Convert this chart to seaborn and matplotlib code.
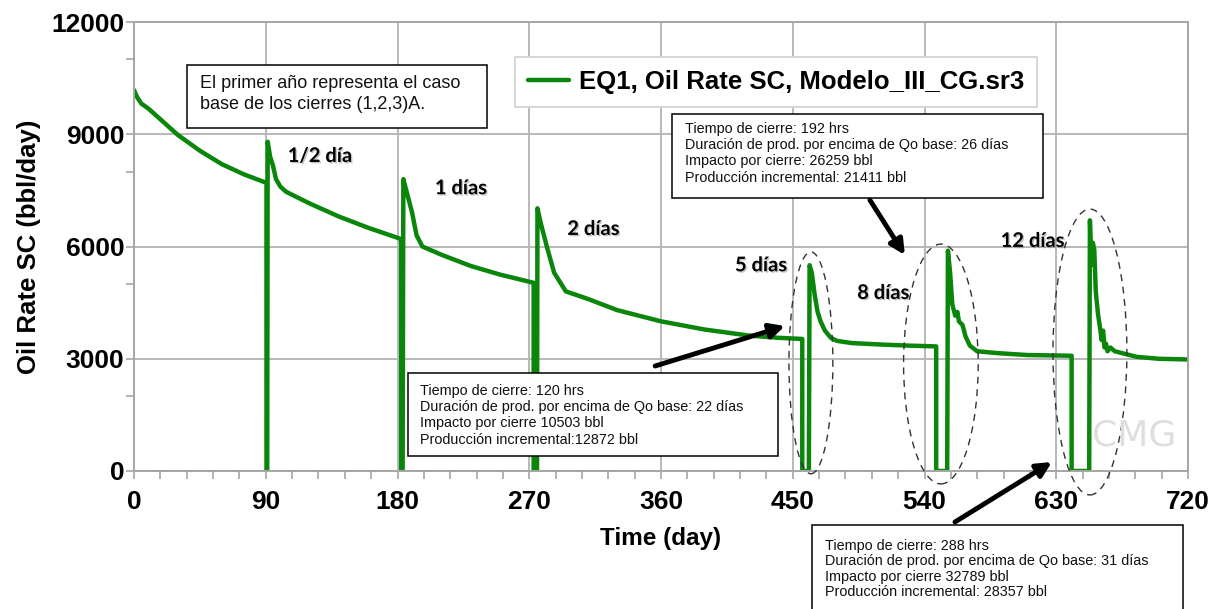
import pandas as pd
import matplotlib.pyplot as plt
import matplotlib.patheffects as pe
from matplotlib.patches import Rectangle, Ellipse
from matplotlib.ticker import MultipleLocator, FixedLocator
import seaborn as sns

# Oil rate (day, bbl/day)
time_day = [0, 2, 5, 10, 20, 30, 45, 60, 75, 90.5,
            90.5, 91.0, 91.3, 93, 95, 97, 100, 104, 120, 140, 160, 182.5,
            182.5, 183.5, 184, 186, 188, 190, 193, 197, 210, 230, 250, 273,
            273, 275.3, 275.6, 278, 282, 287, 295, 310, 330, 360, 390, 420, 440, 456.5,
            456.5, 461, 461.5, 463, 465, 467, 469, 472, 476, 480, 490, 510, 530, 548,
            548, 555.5, 556, 557.5, 559, 561, 562.5, 563.5, 566, 568, 571, 576, 590, 610, 640.5,
            640.5, 652.5, 653, 654, 655, 656, 657, 658.5, 660, 661, 662, 663, 664, 665, 667,
            670, 675, 685, 700, 720]
oil_rate = [10180, 10000, 9820, 9680, 9330, 8980, 8560, 8200, 7930, 7700,
            0, 0, 8800, 8400, 8150, 7800, 7600, 7460, 7150, 6800, 6500, 6200,
            0, 0, 7800, 7500, 7200, 6900, 6300, 6000, 5780, 5480, 5250, 5030,
            0, 0, 7020, 6600, 6000, 5300, 4800, 4600, 4300, 4000, 3780, 3620, 3560, 3530,
            0, 0, 5500, 5300, 4700, 4250, 4000, 3750, 3560, 3480, 3420, 3380, 3350, 3330,
            0, 0, 5890, 5300, 4450, 4150, 4250, 4000, 3900, 3600, 3350, 3200, 3150, 3100, 3080,
            0, 0, 6700, 5500, 6100, 5900, 4800, 4200, 3800, 3500, 3750, 3300, 3400, 3200, 3300,
            3200, 3150, 3050, 3000, 2980]

df = pd.DataFrame({"time": time_day, "rate": oil_rate})

x_ticks = [0, 90, 180, 270, 360, 450, 540, 630, 720]
y_ticks = [0, 3000, 6000, 9000, 12000]

shut_labels = ["1/2 día", "1 días", "2 días", "5 días", "8 días", "12 días"]
label_day = [105, 205.5, 296, 410.5, 494, 592]
label_rate = [8420, 7560, 6470, 5500, 4760, 6150]

box_120 = ["Tiempo de cierre: 120 hrs",
           "Duración de prod. por encima de Qo base: 22 días",
           "Impacto por cierre 10503 bbl",
           "Producción incremental:12872 bbl"]
box_192 = ["Tiempo de cierre: 192 hrs",
           "Duración de prod. por encima de Qo base: 26 días",
           "Impacto por cierre: 26259 bbl",
           "Producción incremental: 21411 bbl"]
box_288 = ["Tiempo de cierre: 288 hrs",
           "Duración de prod. por encima de Qo base: 31 días",
           "Impacto por cierre 32789 bbl",
           "Producción incremental: 28357 bbl"]

sns.set_theme(style="white")
plt.rcParams['font.family'] = ['Liberation Sans', 'DejaVu Sans']

W, H = 1217, 609
fig = plt.figure(figsize=(W / 100, H / 100), dpi=100)


def fx(px):
    return px / W


def fy(py):
    return 1 - py / H


ax = fig.add_axes([fx(134), fy(471), fx(1188) - fx(134), fy(22) - fy(471)])

sns.lineplot(data=df, x="time", y="rate", sort=False, estimator=None,
             color="#0a860a", lw=3.2, ax=ax, label="EQ1, Oil Rate SC, Modelo_III_CG.sr3")

ax.set_xlim(0, 720)
ax.set_ylim(0, 12000)
ax.xaxis.set_major_locator(FixedLocator(x_ticks))
ax.yaxis.set_major_locator(FixedLocator(y_ticks))
ax.xaxis.set_minor_locator(MultipleLocator(18))
ax.yaxis.set_minor_locator(FixedLocator([2000, 5000, 8000, 11000]))
ax.grid(True, which="major", color="#b8b8b8", lw=1.4)
ax.set_axisbelow(True)
for s in ax.spines.values():
    s.set_color("#a6a6a6")
    s.set_linewidth(1.4)
ax.tick_params(axis="both", which="both", bottom=True, left=True, direction="out",
               color="#a6a6a6", width=1.2, length=6, labelcolor="black")
ax.tick_params(axis="x", which="major", pad=8)
ax.tick_params(axis="y", which="major", pad=1)
for lab in ax.get_xticklabels() + ax.get_yticklabels():
    lab.set_fontsize(19)
    lab.set_fontweight("bold")
ax.set_xlabel("Time (day)", fontsize=17.5, fontweight="bold", labelpad=9, color="black")
ax.set_ylabel("Oil Rate SC (bbl/day)", fontsize=18.5, fontweight="bold", labelpad=7, color="black")

leg = ax.legend(loc="upper left", bbox_to_anchor=(fx(515), fy(57)), bbox_transform=fig.transFigure,
                frameon=True, fancybox=False, framealpha=1, edgecolor="#d0d0d0",
                prop=dict(weight="bold", size=18.5), handlelength=1.6, borderpad=0.5,
                borderaxespad=0, handletextpad=0.4)
leg.get_frame().set_linewidth(1.2)
leg.set_zorder(6)
for t in leg.get_texts():
    t.set_color("black")

# shut-in duration labels
shadow = [pe.SimplePatchShadow(offset=(1, -1), shadow_rgbFace="#888888", alpha=0.5), pe.Normal()]
for txt, d, r in zip(shut_labels, label_day, label_rate):
    ax.text(d, r, txt, fontsize=14.5, fontweight="bold", family=["Lato", "DejaVu Sans"],
            ha="left", va="center", color="black", path_effects=shadow, zorder=4)

# dashed ellipses around the later shut-ins
for cx, cy, w, h in [(462.4, 2890, 30, 5930), (551.2, 2860, 51, 6410), (653, 3180, 50.5, 7640)]:
    ax.add_patch(Ellipse((cx, cy), w, h, fill=False, ls=(0, (5, 4)), lw=1.0,
                         ec="#333333", clip_on=False, zorder=4))

# arrows
arrow = dict(arrowstyle="-|>", color="black", lw=3.5, mutation_scale=22, shrinkA=0, shrinkB=0)
for (x0, y0), (x1, y1) in [((356, 2806), (444.7, 3875)),
                           ((502.7, 7242), (526.6, 5772)),
                           ((560.8, -1363), (627, 240))]:
    ax.annotate("", xy=(x1, y1), xytext=(x0, y0), arrowprops=arrow,
                annotation_clip=False, zorder=7)

# CMG watermark
fig.text(fx(1134), fy(435), "CMG", fontsize=26, family="DejaVu Sans", color="#dedede",
         ha="center", va="center", zorder=1)


def note_box(x0, y0, x1, y1, lines, tx, ty, size, spacing):
    fig.patches.append(Rectangle((fx(x0), fy(y1)), fx(x1) - fx(x0), fy(y0) - fy(y1),
                                 transform=fig.transFigure, fc="white", ec="black",
                                 lw=1.1, zorder=5))
    fig.text(fx(tx), fy(ty), "\n".join(lines), ha="left", va="top", fontsize=size,
             linespacing=spacing, color="#111111", zorder=6)


note_box(187, 65, 487, 128, ["El primer año representa el caso",
                             "base de los cierres (1,2,3)A."], 200, 75, 13, 1.28)
note_box(408, 373, 778, 456, box_120, 420, 384, 10.4, 1.2)
note_box(672, 114, 1043, 198, box_192, 685, 122, 10.4, 1.2)
note_box(812, 525, 1183, 612, box_288, 825, 539, 10.4, 1.13)

fig.savefig("out.png", dpi=100)
